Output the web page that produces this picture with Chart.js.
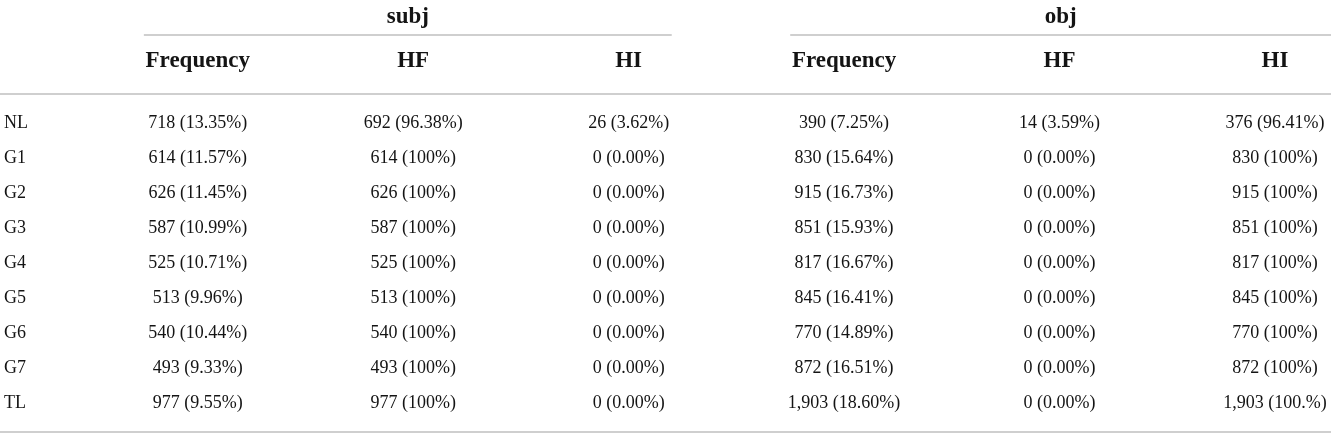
<!DOCTYPE html>
<html>
<head>
<meta charset="utf-8">
<script src="https://cdn.jsdelivr.net/npm/chart.js@4.4.1/dist/chart.umd.min.js"></script>
<style>
  html, body { margin: 0; padding: 0; background: #fff; }
  #wrap { width: 1331px; height: 438px; position: relative; }
</style>
</head>
<body>
<div id="wrap"><canvas id="tbl"></canvas></div>
<script>
// ─── table data ───────────────────────────────────────────────────────────
const ROWS    = ['NL', 'G1', 'G2', 'G3', 'G4', 'G5', 'G6', 'G7', 'TL'];
const GROUPS  = ['subj', 'obj'];
const COLUMNS = ['Frequency', 'HF', 'HI', 'Frequency', 'HF', 'HI'];

const SUBJ_FREQ_N   = [718, 614, 626, 587, 525, 513, 540, 493, 977];
const SUBJ_FREQ_PCT = ['13.35', '11.57', '11.45', '10.99', '10.71', '9.96', '10.44', '9.33', '9.55'];
const SUBJ_HF_N     = [692, 614, 626, 587, 525, 513, 540, 493, 977];
const SUBJ_HF_PCT   = ['96.38', '100', '100', '100', '100', '100', '100', '100', '100'];
const SUBJ_HI_N     = [26, 0, 0, 0, 0, 0, 0, 0, 0];
const SUBJ_HI_PCT   = ['3.62', '0.00', '0.00', '0.00', '0.00', '0.00', '0.00', '0.00', '0.00'];

const OBJ_FREQ_N    = [390, 830, 915, 851, 817, 845, 770, 872, 1903];
const OBJ_FREQ_PCT  = ['7.25', '15.64', '16.73', '15.93', '16.67', '16.41', '14.89', '16.51', '18.60'];
const OBJ_HF_N      = [14, 0, 0, 0, 0, 0, 0, 0, 0];
const OBJ_HF_PCT    = ['3.59', '0.00', '0.00', '0.00', '0.00', '0.00', '0.00', '0.00', '0.00'];
const OBJ_HI_N      = [376, 830, 915, 851, 817, 845, 770, 872, 1903];
const OBJ_HI_PCT    = ['96.41', '100', '100', '100', '100', '100', '100', '100', '100.'];

// ─── style / layout ───────────────────────────────────────────────────────
const INK   = '#141414';
const RULE  = '#cfcfcf';
const SERIF = '"Liberation Serif", "Times New Roman", serif';
const L = { groupY: 17, groupRuleY: 35, colHeadY: 61, headRuleY: 94, footRuleY: 432 };

const fmt = (n, p) => `${n.toLocaleString('en-US')} (${p}%)`;

function cellDS(col, counts, pcts) {
  return {
    data:  ROWS.map(r => ({ x: col, y: r })),
    cells: counts.map((n, i) => fmt(n, pcts[i])),
    pointRadius: 0, pointHoverRadius: 0,
  };
}

// draws cell text at each (invisible) point, plus headers and rules
const tableText = {
  id: 'tableText',
  afterDatasetsDraw(chart) {
    const { ctx, width, chartArea } = chart;
    const x = chart.scales.x;
    ctx.save();
    ctx.fillStyle = INK;
    ctx.textAlign = 'center';
    ctx.textBaseline = 'middle';

    ctx.font = `18px ${SERIF}`;
    chart.data.datasets.forEach((ds, di) => {
      chart.getDatasetMeta(di).data.forEach((pt, i) => ctx.fillText(ds.cells[i], pt.x, pt.y));
    });

    ctx.font = `bold 23px ${SERIF}`;
    COLUMNS.forEach((c, i) => ctx.fillText(c, x.getPixelForValue(i), L.colHeadY));

    ctx.strokeStyle = RULE;
    ctx.lineWidth = 2;
    const hline = (x0, x1, y) => { ctx.beginPath(); ctx.moveTo(x0, y); ctx.lineTo(x1, y); ctx.stroke(); };

    GROUPS.forEach((g, gi) => {
      const a = gi * 3, b = a + 2;
      const x0 = x.getPixelForValue(a - 0.25);
      const x1 = gi === GROUPS.length - 1 ? chartArea.right : x.getPixelForValue(b + 0.2);
      ctx.fillText(g, (x0 + x1) / 2, L.groupY);
      hline(x0, x1, L.groupRuleY);
    });
    hline(0, width, L.headRuleY);
    hline(0, width, L.footRuleY);
    ctx.restore();
  },
};

new Chart(document.getElementById('tbl'), {
  type: 'scatter',
  data: {
    datasets: [
      cellDS(0, SUBJ_FREQ_N, SUBJ_FREQ_PCT),
      cellDS(1, SUBJ_HF_N,   SUBJ_HF_PCT),
      cellDS(2, SUBJ_HI_N,   SUBJ_HI_PCT),
      cellDS(3, OBJ_FREQ_N,  OBJ_FREQ_PCT),
      cellDS(4, OBJ_HF_N,    OBJ_HF_PCT),
      cellDS(5, OBJ_HI_N,    OBJ_HI_PCT),
    ],
  },
  options: {
    responsive: true,
    maintainAspectRatio: false,
    animation: false,
    events: [],
    layout: { padding: { left: 4, right: 0, top: 105.5, bottom: 17.5 } },
    plugins: { legend: { display: false }, tooltip: { enabled: false } },
    scales: {
      x: { type: 'linear', min: -0.5, max: 5.26, display: false },
      y: {
        type: 'category',
        labels: ROWS,
        offset: true,
        grid:   { display: false, drawTicks: false },
        border: { display: false },
        ticks:  { color: INK, font: { family: SERIF, size: 18 }, crossAlign: 'far', padding: 0 },
        afterFit: s => { s.width = 86; },
      },
    },
  },
  plugins: [tableText],
});
</script>
</body>
</html>
